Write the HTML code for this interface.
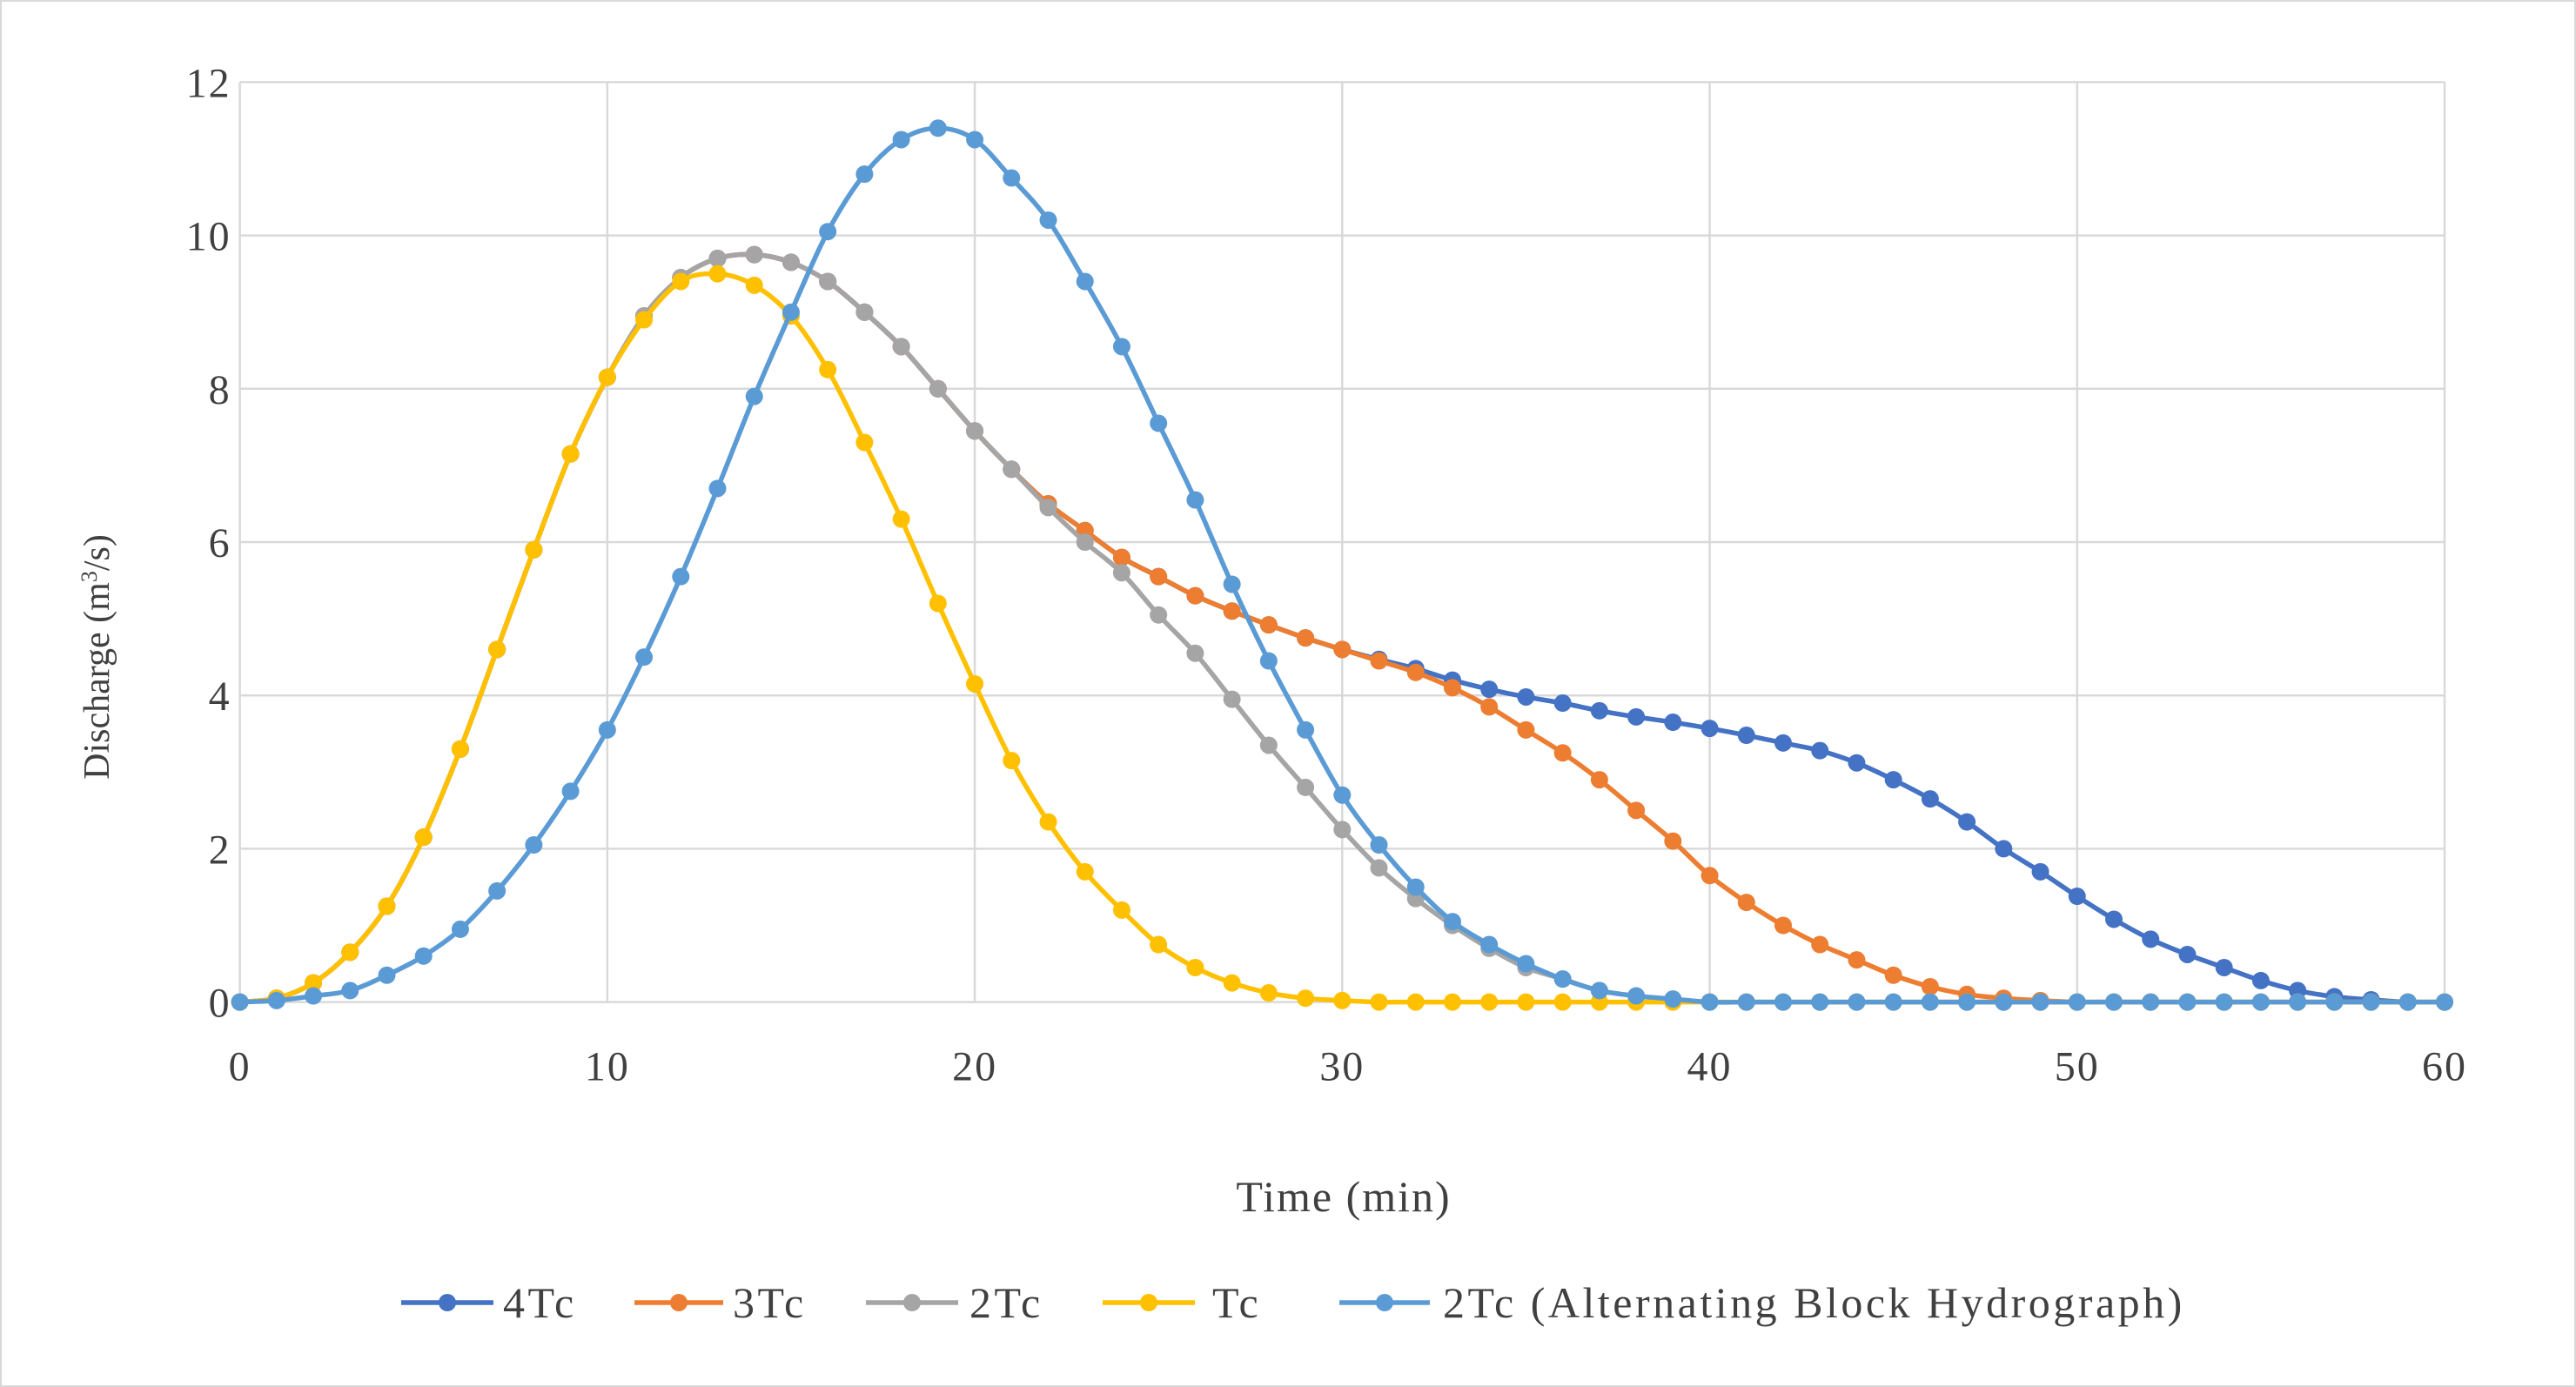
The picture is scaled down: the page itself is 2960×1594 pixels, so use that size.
<!DOCTYPE html>
<html><head><meta charset="utf-8"><style>
html,body{margin:0;padding:0;background:#fff}
svg{display:block}
text{font-family:"Liberation Serif",serif;fill:#404040}
</style></head><body>
<svg id="chart" width="2960" height="1594" viewBox="0 0 2960 1594">
<rect x="1" y="1" width="2958" height="1592" fill="#fff" stroke="#d9d9d9" stroke-width="2"/>
<g id="grid"></g><g id="series"></g><g id="ticks"></g>
<text x="1544" y="1392" font-size="50" letter-spacing="2" text-anchor="middle">Time  (min)</text>
<text transform="translate(125,755) rotate(-90)" font-size="42" text-anchor="middle">Discharge  (m<tspan baseline-shift="super" font-size="26">3</tspan>/s)</text>
<g id="legend"></g>
</svg>
<script>
const xTicks=[0,10,20,30,40,50,60];
const yTicks=[0,2,4,6,8,10,12];
const seriesNames=["4Tc","3Tc","2Tc","Tc","2Tc (Alternating Block Hydrograph)"];
const seriesColors=["#4472C4","#ED7D31","#A5A5A5","#FFC000","#5B9BD5"];
const tcVals=[0,0.05,0.25,0.65,1.25,2.15,3.3,4.6,5.9,7.15,8.15,8.9,9.4,9.5,9.35,8.95,8.25,7.3,6.3,5.2,4.15,3.15,2.35,1.7,1.2,0.75,0.45,0.25,0.12,0.05,0.02,0,0,0,0,0,0,0,0,0,0,0,0,0,0,0,0,0,0,0,0,0,0,0,0,0,0,0,0,0,0];
const tc2Vals=[0,0.05,0.25,0.65,1.25,2.15,3.3,4.6,5.9,7.15,8.15,8.95,9.45,9.7,9.75,9.65,9.4,9.0,8.55,8.0,7.45,6.95,6.45,6.0,5.6,5.05,4.55,3.95,3.35,2.8,2.25,1.75,1.35,1.0,0.7,0.45,0.3,0.15,0.08,0.03,0,0,0,0,0,0,0,0,0,0,0,0,0,0,0,0,0,0,0,0,0];
const tc3Vals=[0,0.05,0.25,0.65,1.25,2.15,3.3,4.6,5.9,7.15,8.15,8.95,9.45,9.7,9.75,9.65,9.4,9.0,8.55,8.0,7.45,6.95,6.5,6.15,5.8,5.55,5.3,5.1,4.92,4.75,4.6,4.45,4.3,4.1,3.85,3.55,3.25,2.9,2.5,2.1,1.65,1.3,1.0,0.75,0.55,0.35,0.2,0.1,0.05,0.02,0,0,0,0,0,0,0,0,0,0,0];
const tc4Vals=[0,0.05,0.25,0.65,1.25,2.15,3.3,4.6,5.9,7.15,8.15,8.95,9.45,9.7,9.75,9.65,9.4,9.0,8.55,8.0,7.45,6.95,6.5,6.15,5.8,5.55,5.3,5.1,4.92,4.75,4.6,4.47,4.35,4.2,4.08,3.98,3.9,3.8,3.72,3.65,3.57,3.48,3.38,3.28,3.12,2.9,2.65,2.35,2.0,1.7,1.38,1.08,0.82,0.62,0.45,0.28,0.15,0.07,0.03,0,0];
const abhVals=[0,0.02,0.08,0.15,0.35,0.6,0.95,1.45,2.05,2.75,3.55,4.5,5.55,6.7,7.9,9.0,10.05,10.8,11.25,11.4,11.25,10.75,10.2,9.4,8.55,7.55,6.55,5.45,4.45,3.55,2.7,2.05,1.5,1.05,0.75,0.5,0.3,0.15,0.08,0.04,0,0,0,0,0,0,0,0,0,0,0,0,0,0,0,0,0,0,0,0,0];
const allSeries=[tc4Vals,tc3Vals,tc2Vals,tcVals,abhVals];
const NS="http://www.w3.org/2000/svg";
const X0=275.6,X1=2809,Y0=1151.6,Y1=94.4;
const xs=v=>X0+(v-0)/(60-0)*(X1-X0);
const ys=v=>Y0-(v-0)/(12-0)*(Y0-Y1);
function mk(tag,attrs,parent){const e=document.createElementNS(NS,tag);for(const k in attrs)e.setAttribute(k,attrs[k]);parent.appendChild(e);return e;}
const grid=document.getElementById('grid'),ticks=document.getElementById('ticks'),ser=document.getElementById('series'),leg=document.getElementById('legend');
yTicks.forEach(v=>{
 const l=mk('line',{x1:X0,x2:X1,y1:ys(v),y2:ys(v),stroke:'#d9d9d9','stroke-width':2.5},grid);
 
 
 const t=mk('text',{x:X0-10,y:ys(v)+17,'font-size':48,'letter-spacing':2,'text-anchor':'end'},ticks);t.textContent=v;
 
 
});
xTicks.forEach(v=>{
 const l=mk('line',{y1:Y1,y2:Y0,x1:xs(v),x2:xs(v),stroke:'#d9d9d9','stroke-width':2.5},grid);
 
 
 const t=mk('text',{x:xs(v),y:Y0+90,'font-size':48,'letter-spacing':2,'text-anchor':'middle'},ticks);t.textContent=v;
 
 
});
function smoothPath(pts){let d=`M${pts[0][0]},${pts[0][1]}`;for(let i=0;i<pts.length-1;i++){const p0=pts[Math.max(i-1,0)],p1=pts[i],p2=pts[i+1],p3=pts[Math.min(i+2,pts.length-1)];const c1=[p1[0]+(p2[0]-p0[0])/6,p1[1]+(p2[1]-p0[1])/6],c2=[p2[0]-(p3[0]-p1[0])/6,p2[1]-(p3[1]-p1[1])/6];d+=`C${c1[0]},${c1[1]} ${c2[0]},${c2[1]} ${p2[0]},${p2[1]}`;}return d;}
allSeries.forEach((vals,si)=>{
 const g=mk('g',{},ser);
 
 
 const pts=vals.map((v,i)=>[xs(i),ys(v)]);
 const p=mk('path',{d:smoothPath(pts),fill:'none',stroke:seriesColors[si],'stroke-width':5.5,'stroke-linejoin':'round'},g);
 
 
 pts.forEach(pt=>{const c=mk('circle',{cx:pt[0],cy:pt[1],r:10,fill:seriesColors[si]},g);
  
  });
});
const legX=[[461,567,578],[729,831,842],[995,1101,1114],[1267,1373,1393],[1539,1643,1658]];
seriesNames.forEach((n,i)=>{
 const g=mk('g',{},leg);
 
 
 const cy=1497;
 mk('line',{x1:legX[i][0],x2:legX[i][1],y1:cy,y2:cy,stroke:seriesColors[i],'stroke-width':5.5},g);
 mk('circle',{cx:(legX[i][0]+legX[i][1])/2,cy:cy,r:10,fill:seriesColors[i]},g);
 const t=mk('text',{x:legX[i][2],y:cy+17,'font-size':50,'letter-spacing':3.5},g);t.textContent=n;
});
</script>
</body></html>
